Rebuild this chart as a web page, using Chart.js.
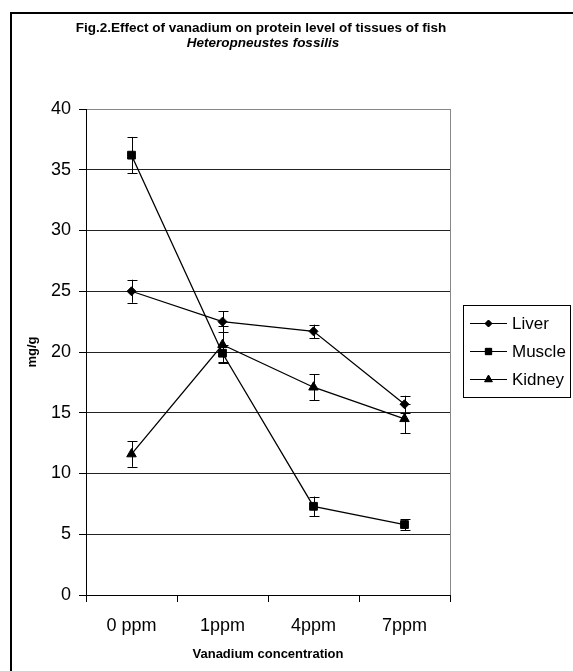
<!DOCTYPE html>
<html>
<head>
<meta charset="utf-8">
<script src="https://cdn.jsdelivr.net/npm/chart.js@4"></script>
<style>
    html, body { margin: 0; padding: 0; background: #fff; overflow: hidden; }
    #wrap { width: 573px; height: 671px; position: relative; }
</style>
</head>
<body>
<div id="wrap"><canvas id="proteinChart" width="573" height="671"></canvas></div>
<script>
const categories = ['0 ppm', '1ppm', '4ppm', '7ppm'];

const liver = [25.0, 22.5, 21.7, 15.7];
const liverErr = [0.95, 0.87, 0.55, 0.7];

const muscle = [36.2, 19.9, 7.3, 5.8];
const muscleErr = [1.5, 0.7, 0.8, 0.45];

const kidney = [11.6, 20.6, 17.1, 14.5];
const kidneyErr = [1.05, 1.5, 1.05, 1.2];

const yTicks = [0, 5, 10, 15, 20, 25, 30, 35, 40];

const FONT = 'Liberation Sans, Arial, sans-serif';

/* ======================================================
   PLUGIN: outer frame, title, error bars, legend
====================================================== */
const decor = {
    id: 'decor',
    beforeDraw(chart) {
        const ctx = chart.ctx;
        ctx.save();
        ctx.strokeStyle = '#000';
        ctx.lineWidth = 2;
        ctx.strokeRect(11, 13, 700, 700);
        ctx.restore();
    },
    beforeDatasetsDraw(chart) {
        const ctx = chart.ctx;
        const x = chart.scales.x, y = chart.scales.y;
        ctx.save();
        ctx.strokeStyle = '#000';
        ctx.lineWidth = 1;
        chart.data.datasets.forEach(ds => {
            ds.data.forEach((v, i) => {
                const px = Math.round(x.getPixelForValue(i)) + 0.5;
                const top = y.getPixelForValue(v + ds.err[i]);
                const bot = y.getPixelForValue(v - ds.err[i]);
                ctx.beginPath();
                ctx.moveTo(px, top); ctx.lineTo(px, bot);
                ctx.moveTo(px - 5, Math.round(top) + 0.5); ctx.lineTo(px + 5, Math.round(top) + 0.5);
                ctx.moveTo(px - 5, Math.round(bot) + 0.5); ctx.lineTo(px + 5, Math.round(bot) + 0.5);
                ctx.stroke();
            });
        });
        // right border of plot area
        const a = chart.chartArea;
        ctx.strokeStyle = '#888';
        ctx.beginPath();
        ctx.moveTo(a.right + 0.5, a.top);
        ctx.lineTo(a.right + 0.5, a.bottom);
        ctx.stroke();
        ctx.restore();
    },
    afterDraw(chart) {
        const ctx = chart.ctx;
        ctx.save();
        ctx.fillStyle = '#000';
        ctx.textAlign = 'center';
        ctx.textBaseline = 'middle';
        ctx.font = `bold 13.5px ${FONT}`;
        ctx.fillText('Fig.2.Effect of vanadium on protein level of tissues of fish', 261, 28);
        ctx.font = `italic bold 13.5px ${FONT}`;
        ctx.fillText('Heteropneustes fossilis', 263, 43);

        // legend
        ctx.strokeStyle = '#000';
        ctx.lineWidth = 1;
        ctx.strokeRect(463.5, 305.5, 107, 92);
        ctx.textAlign = 'left';
        ctx.font = `17px ${FONT}`;
        const rows = [323, 351, 379];
        chart.data.datasets.forEach((ds, i) => {
            const ry = rows[i] + 0.5;
            ctx.beginPath();
            ctx.moveTo(470, ry); ctx.lineTo(507, ry);
            ctx.stroke();
            Chart.helpers.drawPoint(ctx, {
                pointStyle: ds.pointStyle,
                radius: ds.legendRadius,
                rotation: 0,
                borderWidth: 1
            }, 488.5, ry);
            ctx.fill();
            ctx.fillText(ds.label, 512, rows[i] + 1);
        });
        ctx.restore();
    }
};

function makeSet(label, data, err, style, radius) {
    return {
        label,
        data,
        err,
        pointStyle: style,
        pointRadius: radius,
        legendRadius: radius - 1,
        pointBackgroundColor: '#000',
        pointBorderColor: '#000',
        pointBorderWidth: 1,
        borderColor: '#000',
        borderWidth: 1.3,
        tension: 0,
        fill: false
    };
}

new Chart(document.getElementById('proteinChart'), {
    type: 'line',
    data: {
        labels: categories,
        datasets: [
            makeSet('Liver', liver, liverErr, 'rectRot', 4.5),
            makeSet('Muscle', muscle, muscleErr, 'rect', 5.5),
            makeSet('Kidney', kidney, kidneyErr, 'triangle', 5.5)
        ]
    },
    options: {
        responsive: false,
        animation: false,
        devicePixelRatio: 1,
        layout: { padding: { top: 109, left: 20, right: 123, bottom: 0 } },
        plugins: {
            legend: { display: false },
            title: { display: false },
            tooltip: { enabled: false }
        },
        scales: {
            x: {
                type: 'category',
                offset: true,
                afterFit: s => {
                    s.height = 76;
                    s.paddingLeft = 0;
                    s.paddingRight = 0;
                },
                grid: {
                    offset: true,
                    drawOnChartArea: false,
                    tickLength: 7,
                    tickColor: '#000'
                },
                border: { color: '#000', width: 1 },
                ticks: {
                    color: '#000',
                    padding: 13,
                    font: { family: FONT, size: 18 },
                    maxRotation: 0
                },
                title: {
                    display: true,
                    text: 'Vanadium concentration',
                    color: '#000',
                    font: { family: FONT, size: 13, weight: 'bold' },
                    padding: { top: 0, bottom: 9 }
                }
            },
            y: {
                min: 0,
                max: 40,
                afterFit: s => {
                    s.width = 66;
                    s.paddingTop = 0;
                    s.paddingBottom = 0;
                },
                afterBuildTicks: s => {
                    s.ticks = yTicks.map(v => ({ value: v }));
                },
                grid: {
                    color: c => c.tick && c.tick.value === 40 ? '#888' : '#222',
                    tickColor: '#000',
                    tickLength: 7
                },
                border: { color: '#000', width: 1 },
                ticks: {
                    color: '#000',
                    padding: 8,
                    font: { family: FONT, size: 18 }
                },
                title: {
                    display: true,
                    text: 'mg/g',
                    color: '#000',
                    font: { family: FONT, size: 13, weight: 'bold' },
                    padding: { top: 5, bottom: 0 }
                }
            }
        }
    },
    plugins: [decor]
});
</script>
</body>
</html>
